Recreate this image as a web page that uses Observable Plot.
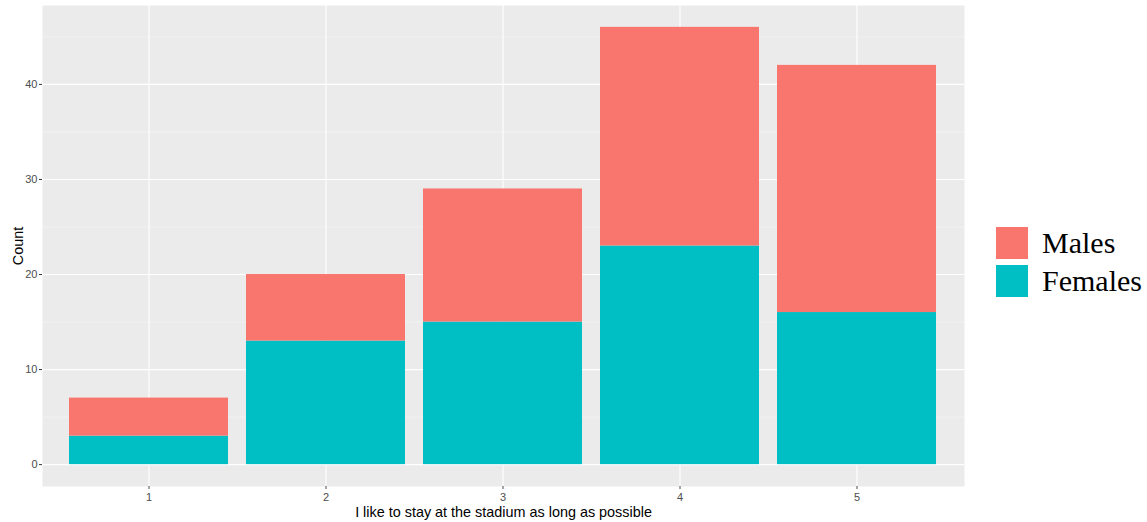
<!DOCTYPE html>
<html>
<head>
<meta charset="utf-8">
<script src="https://cdn.jsdelivr.net/npm/d3@7"></script>
<script src="https://cdn.jsdelivr.net/npm/@observablehq/plot@0.6"></script>
<style>
  body { margin: 0; background: #fff; }
  #wrap { position: relative; width: 1147px; height: 522px; }
  #legend { position: absolute; left: 996px; top: 224px; font-family: "Liberation Serif", "Times New Roman", serif; font-size: 30px; color: #000; }
  .item { display: flex; align-items: center; height: 38px; }
  .key { width: 32px; height: 32px; margin-right: 14px; }
</style>
</head>
<body>
<div id="wrap"></div>
<script>
const categories = ["1", "2", "3", "4", "5"];
const females = [3, 13, 15, 23, 16];
const males = [4, 7, 14, 23, 26];
const groups = ["Males", "Females"];
const groupColors = ["#F8766D", "#00BFC4"];
const yTicks = [0, 10, 20, 30, 40];
const yMinor = [5, 15, 25, 35, 45];

const data = [];
categories.forEach((c, i) => {
  data.push({cat: c, group: "Females", value: females[i]});
  data.push({cat: c, group: "Males", value: males[i]});
});

const chart = Plot.plot({
  width: 1147,
  height: 522,
  marginLeft: 42,
  marginRight: 183,
  marginTop: 5,
  marginBottom: 36,
  style: {fontFamily: "'Liberation Sans', Arial, sans-serif", background: "white"},
  x: {domain: categories, paddingInner: 0.1, paddingOuter: 0.15},
  y: {domain: [-2.3, 48.3]},
  color: {domain: groups, range: groupColors},
  marks: [
    Plot.frame({fill: "#EBEBEB", stroke: null}),
    Plot.ruleY(yMinor, {stroke: "#F5F5F5", strokeWidth: 0.6}),
    Plot.ruleY(yTicks, {stroke: "white", strokeWidth: 1.1}),
    Plot.gridX({stroke: "white", strokeOpacity: 1, strokeWidth: 1.1}),
    Plot.barY(data, {x: "cat", y: "value", fill: "group", order: ["Females", "Males"], inset: 0}),
    Plot.axisY(yTicks, {tickSize: 3, tickPadding: 2, fontSize: 11, color: "#4D4D4D", stroke: "#333", label: "Count", labelAnchor: "center", labelArrow: "none", labelOffset: 30}),
    Plot.axisX({tickSize: 3, tickPadding: 4, fontSize: 11, color: "#4D4D4D", label: "I like to stay at the stadium as long as possible", labelAnchor: "center", labelArrow: "none", labelOffset: 30})
  ]
});
document.getElementById("wrap").appendChild(chart);

// make axis titles black and larger
chart.querySelectorAll("[aria-label='y-axis label'] text, [aria-label='x-axis label'] text").forEach(t => {
  t.setAttribute("fill", "#000");
  t.style.fontSize = "14.4px";
});

const legend = document.createElement("div");
legend.id = "legend";
groups.forEach((g, i) => {
  const item = document.createElement("div");
  item.className = "item";
  const key = document.createElement("div");
  key.className = "key";
  key.style.background = groupColors[i];
  const label = document.createElement("span");
  label.textContent = g;
  item.appendChild(key);
  item.appendChild(label);
  legend.appendChild(item);
});
document.getElementById("wrap").appendChild(legend);
</script>
</body>
</html>
